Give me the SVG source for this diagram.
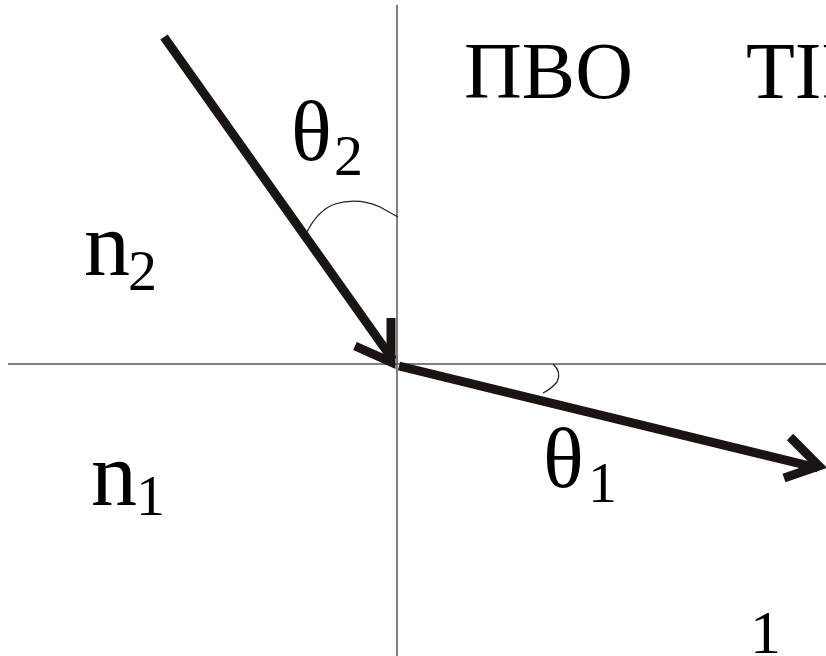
<svg xmlns="http://www.w3.org/2000/svg" width="826" height="656" viewBox="0 0 826 656">
<style>
.ax{stroke:#555;stroke-width:1.5;fill:none}
.ray{stroke:#1a1512;stroke-width:9;fill:none;stroke-linecap:butt}
.arc{stroke:#222;stroke-width:1.3;fill:none}
text{font-family:"Liberation Serif","Times New Roman",serif;fill:#000}
.sub{font-size:58px}
</style>
<rect width="826" height="656" fill="#fff"/>
<g id="axes">
<line class="ax" x1="397" y1="5" x2="397" y2="656"/>
<line class="ax" x1="8" y1="364" x2="826" y2="364"/>
</g>
<g id="connectors">
<line class="ray" x1="164" y1="37" x2="393" y2="360"/>
<polyline class="ray" points="391,318 391,362 355,346"/>
<line class="ray" x1="399" y1="366" x2="818" y2="468"/>
<polyline class="ray" points="790,437 819,466 784,478"/>
</g>
<g id="arcs">
<path class="arc" d="M307,232 Q318,210 335,204 Q358,197 380,207 L398,217"/>
<path class="arc" d="M553,364 Q562,372 557,382 Q551,389 543,393"/>
</g>
<g id="labels">
<text x="464" y="98" font-size="80">ПВО</text>
<text x="746" y="98" font-size="80">TIR</text>
<text x="291" y="160" font-size="85">θ</text>
<text x="334" y="175" class="sub">2</text>
<text x="84" y="275" font-size="92">n</text>
<text x="128" y="290" class="sub">2</text>
<text x="91" y="505" font-size="92">n</text>
<text x="136" y="515" class="sub">1</text>
<text x="543" y="487" font-size="85">θ</text>
<text x="588" y="502" class="sub">1</text>
<text x="750" y="653" font-size="62">1</text>
</g>
</svg>
